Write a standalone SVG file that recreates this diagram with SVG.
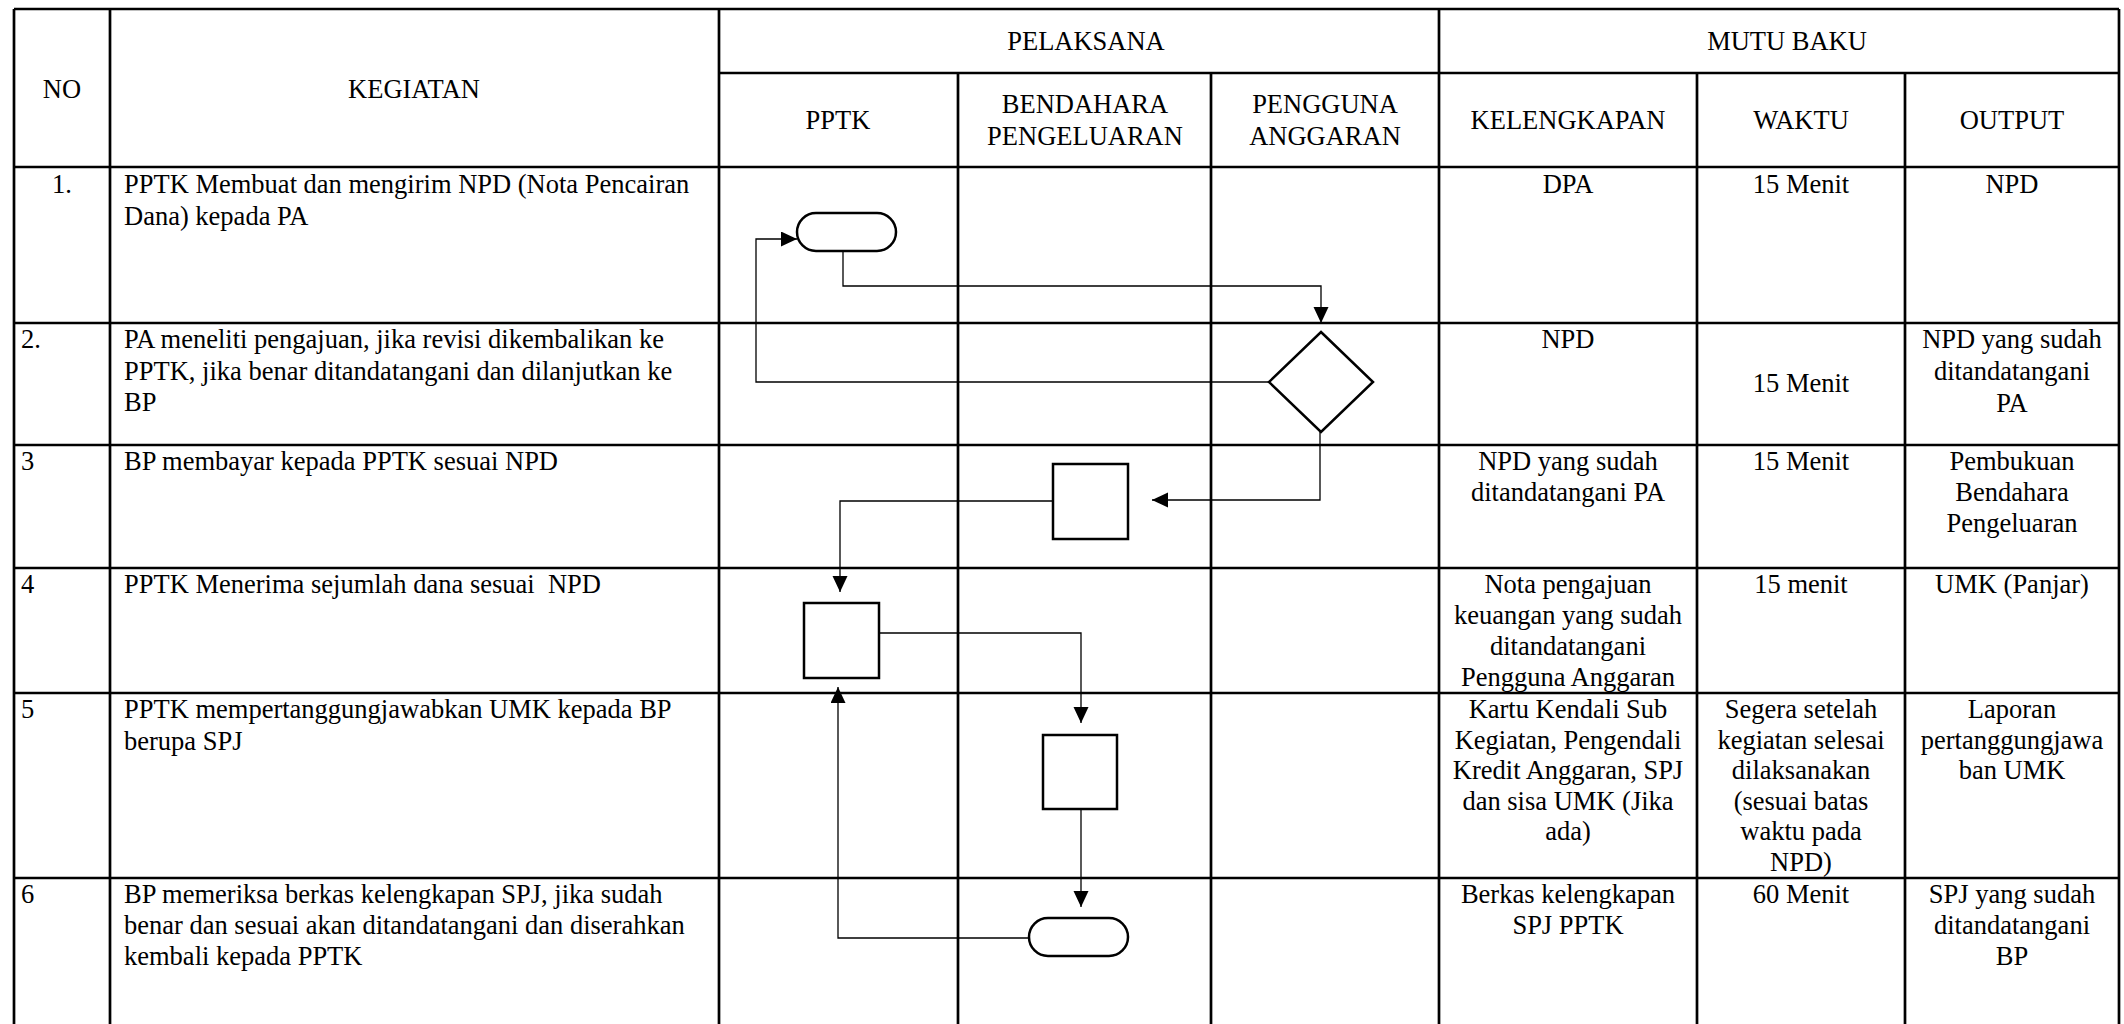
<svg xmlns="http://www.w3.org/2000/svg" width="2124" height="1024" viewBox="0 0 2124 1024" font-family="'Liberation Serif', 'Times New Roman', 'DejaVu Serif', serif">
<style>
.grid line{stroke:#000;stroke-width:2.7}
text{font-family:'Liberation Serif','Times New Roman','DejaVu Serif',serif;font-size:26.5px;fill:#000}
.c{text-anchor:middle}
.shape{fill:#fff;stroke:#000;stroke-width:2.5}
.conn{fill:none;stroke:#000;stroke-width:1.3}
</style>
<defs>
<marker id="arr" markerUnits="userSpaceOnUse" markerWidth="17" markerHeight="16" refX="16" refY="7.5" orient="auto">
<path d="M0,0 L16,7.5 L0,15 z" fill="#000"/>
</marker>
</defs>
<rect x="0" y="0" width="2124" height="1024" fill="#fff"/>
<g id="table" class="grid">
<line x1="14" y1="9" x2="2119" y2="9"/>
<line x1="719" y1="73" x2="2119" y2="73"/>
<line x1="14" y1="167" x2="2119" y2="167"/>
<line x1="14" y1="323" x2="2119" y2="323"/>
<line x1="14" y1="445" x2="2119" y2="445"/>
<line x1="14" y1="568" x2="2119" y2="568"/>
<line x1="14" y1="693" x2="2119" y2="693"/>
<line x1="14" y1="878" x2="2119" y2="878"/>
<line x1="14" y1="9" x2="14" y2="1024"/>
<line x1="110" y1="9" x2="110" y2="1024"/>
<line x1="719" y1="9" x2="719" y2="1024"/>
<line x1="958" y1="73" x2="958" y2="1024"/>
<line x1="1211" y1="73" x2="1211" y2="1024"/>
<line x1="1439" y1="9" x2="1439" y2="1024"/>
<line x1="1697" y1="73" x2="1697" y2="1024"/>
<line x1="1905" y1="73" x2="1905" y2="1024"/>
<line x1="2119" y1="9" x2="2119" y2="1024"/>
</g>
<g id="headers">
<text class="c" x="62" y="98">NO</text>
<text class="c" x="414" y="98">KEGIATAN</text>
<text class="c" x="1086" y="50">PELAKSANA</text>
<text class="c" x="1787" y="50">MUTU BAKU</text>
<text class="c" x="838" y="129">PPTK</text>
<text class="c" x="1085" y="113">BENDAHARA</text>
<text class="c" x="1085" y="145">PENGELUARAN</text>
<text class="c" x="1325" y="113">PENGGUNA</text>
<text class="c" x="1325" y="145">ANGGARAN</text>
<text class="c" x="1568" y="129">KELENGKAPAN</text>
<text class="c" x="1801" y="129">WAKTU</text>
<text class="c" x="2012" y="129">OUTPUT</text>
</g>
<g id="row1">
<text class="c" x="62" y="193">1.</text>
<text x="124" y="193">PPTK Membuat dan mengirim NPD (Nota Pencairan</text>
<text x="124" y="225">Dana) kepada PA</text>
<text class="c" x="1568" y="193">DPA</text>
<text class="c" x="1801" y="193">15 Menit</text>
<text class="c" x="2012" y="193">NPD</text>
</g>
<g id="row2">
<text x="21" y="348">2.</text>
<text x="124" y="348">PA meneliti pengajuan, jika revisi dikembalikan ke</text>
<text x="124" y="380">PPTK, jika benar ditandatangani dan dilanjutkan ke</text>
<text x="124" y="411">BP</text>
<text class="c" x="1568" y="348">NPD</text>
<text class="c" x="1801" y="392">15 Menit</text>
<text class="c" x="2012" y="348">NPD yang sudah</text>
<text class="c" x="2012" y="380">ditandatangani</text>
<text class="c" x="2012" y="412">PA</text>
</g>
<g id="row3">
<text x="21" y="470">3</text>
<text x="124" y="470">BP membayar kepada PPTK sesuai NPD</text>
<text class="c" x="1568" y="470">NPD yang sudah</text>
<text class="c" x="1568" y="501">ditandatangani PA</text>
<text class="c" x="1801" y="470">15 Menit</text>
<text class="c" x="2012" y="470">Pembukuan</text>
<text class="c" x="2012" y="501">Bendahara</text>
<text class="c" x="2012" y="532">Pengeluaran</text>
</g>
<g id="row4">
<text x="21" y="593">4</text>
<text x="124" y="593" xml:space="preserve">PPTK Menerima sejumlah dana sesuai  NPD</text>
<text class="c" x="1568" y="593">Nota pengajuan</text>
<text class="c" x="1568" y="624">keuangan yang sudah</text>
<text class="c" x="1568" y="655">ditandatangani</text>
<text class="c" x="1568" y="686">Pengguna Anggaran</text>
<text class="c" x="1801" y="593">15 menit</text>
<text class="c" x="2012" y="593">UMK (Panjar)</text>
</g>
<g id="row5">
<text x="21" y="718">5</text>
<text x="124" y="718">PPTK mempertanggungjawabkan UMK kepada BP</text>
<text x="124" y="750">berupa SPJ</text>
<text class="c" x="1568" y="718">Kartu Kendali Sub</text>
<text class="c" x="1568" y="748.5">Kegiatan, Pengendali</text>
<text class="c" x="1568" y="779">Kredit Anggaran, SPJ</text>
<text class="c" x="1568" y="809.5">dan sisa UMK (Jika</text>
<text class="c" x="1568" y="840">ada)</text>
<text class="c" x="1801" y="718">Segera setelah</text>
<text class="c" x="1801" y="748.5">kegiatan selesai</text>
<text class="c" x="1801" y="779">dilaksanakan</text>
<text class="c" x="1801" y="809.5">(sesuai batas</text>
<text class="c" x="1801" y="840">waktu pada</text>
<text class="c" x="1801" y="870.5">NPD)</text>
<text class="c" x="2012" y="718">Laporan</text>
<text class="c" x="2012" y="748.5">pertanggungjawa</text>
<text class="c" x="2012" y="779">ban UMK</text>
</g>
<g id="row6">
<text x="21" y="903">6</text>
<text x="124" y="903">BP memeriksa berkas kelengkapan SPJ, jika sudah</text>
<text x="124" y="934">benar dan sesuai akan ditandatangani dan diserahkan</text>
<text x="124" y="965">kembali kepada PPTK</text>
<text class="c" x="1568" y="903">Berkas kelengkapan</text>
<text class="c" x="1568" y="934">SPJ PPTK</text>
<text class="c" x="1801" y="903">60 Menit</text>
<text class="c" x="2012" y="903">SPJ yang sudah</text>
<text class="c" x="2012" y="934">ditandatangani</text>
<text class="c" x="2012" y="965">BP</text>
</g>
<g id="connectors">
<path class="conn" d="M843,251 V286 H1321 V323" marker-end="url(#arr)"/>
<path class="conn" d="M1269,382 H756 V239 H797" marker-end="url(#arr)"/>
<path class="conn" d="M1320,432 V500 H1152" marker-end="url(#arr)"/>
<path class="conn" d="M1053,501 H840 V592" marker-end="url(#arr)"/>
<path class="conn" d="M879,633 H1081 V723" marker-end="url(#arr)"/>
<path class="conn" d="M1081,809 V907" marker-end="url(#arr)"/>
<path class="conn" d="M1029,938 H838 V687" marker-end="url(#arr)"/>
</g>
<g id="n1-start"><rect class="shape" x="797" y="213" width="99" height="38" rx="19"/></g>
<g id="n2-decision"><path class="shape" d="M1321,332 L1373,382 L1321,432 L1269,382 z"/></g>
<g id="n3-bp-pay"><rect class="shape" x="1053" y="464" width="75" height="75"/></g>
<g id="n4-pptk-receive"><rect class="shape" x="804" y="603" width="75" height="75"/></g>
<g id="n5-bp-spj"><rect class="shape" x="1043" y="735" width="74" height="74"/></g>
<g id="n6-end"><rect class="shape" x="1029" y="918" width="99" height="38" rx="19"/></g>
</svg>
